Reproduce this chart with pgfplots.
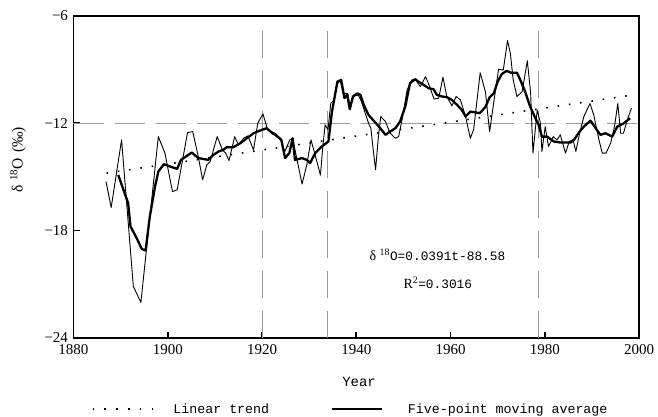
\documentclass[border=0pt]{standalone}
\usepackage{fontspec}
\setmainfont{Liberation Serif}
\newfontfamily\mono{Liberation Mono}
\usepackage{pgfplots}
\pgfplotsset{compat=1.18}
\begin{document}
\begin{tikzpicture}
\useasboundingbox (-73.5pt,-79pt) rectangle (584.5pt,338pt);
\begin{axis}[
  at={(0pt,0pt)}, anchor=south west,
  scale only axis, width=565.5pt, height=322.2pt,
  xmin=1880, xmax=2000, ymin=-24, ymax=-6,
  axis line style={line width=1.6pt},
  xtick={1880,1900,1920,1940,1960,1980,2000},
  xticklabels={1880,1900,1920,1940,1960,1980,2000},
  ytick={-24,-18,-12,-6},
  yticklabels={−24,−18,−12,−6},
  tick pos=left, tick align=inside,
  major tick length=6pt,
  every tick/.style={black, line width=1.6pt},
  ticklabel style={font=\fontsize{15}{18}\selectfont},
  yticklabel style={xshift=-2pt},
  xticklabel style={yshift=-3pt},
  xlabel={Year}, ylabel={δ\hspace{0.3em}\textsuperscript{18}O\hspace{0.35em}(‰)},
  xlabel style={font=\mono\fontsize{14}{16}\selectfont, at={(axis description cs:0.505,-0.137)}, anchor=center},
  ylabel style={font=\fontsize{15.5}{18}\selectfont, at={(axis description cs:-0.098,0.553)}, anchor=center},
  legend columns=2,
  legend style={draw=none, fill=none, at={(axis description cs:0.032,-0.2205)}, anchor=west,
    font=\mono\fontsize{13.3}{16}\selectfont, inner sep=0pt,
    /tikz/every even column/.append style={column sep=60pt}},
  clip=false,
]
% reference dashed lines
\addplot[forget plot, color=black!40, line width=0.9pt, dash pattern=on 30pt off 11pt] coordinates {(1880,-12) (1999.6,-12)};
\addplot[forget plot, color=black!40, line width=0.9pt, dash pattern=on 27pt off 13pt] coordinates {(1920,-24) (1920,-6.6)};
\addplot[forget plot, color=black!40, line width=0.9pt, dash pattern=on 27pt off 13pt] coordinates {(1933.9,-24) (1933.9,-6.6)};
\addplot[forget plot, color=black!40, line width=0.9pt, dash pattern=on 27pt off 13pt] coordinates {(1978.7,-24) (1978.7,-6.6)};
% annual series
\addplot[forget plot, black, line width=0.9pt, line join=round] coordinates {
(1886.9,-15.26) (1888.0,-16.71) (1890.2,-12.93) (1892.7,-21.12) (1894.3,-22.01)
(1898.0,-12.75) (1899.4,-13.67) (1901.0,-15.82) (1902.0,-15.72) (1904.2,-12.52)
(1905.3,-12.47) (1906.4,-13.77) (1907.4,-15.16) (1908.3,-14.33) (1909.0,-14.14)
(1910.5,-12.75) (1911.6,-13.49) (1912.3,-13.67) (1913.0,-14.09) (1914.2,-12.75)
(1915.0,-13.21) (1916.1,-12.84) (1917.0,-12.71) (1918.2,-13.49) (1919.1,-12.00)
(1920.2,-11.48) (1921.2,-12.37) (1922.8,-12.56) (1923.9,-12.84) (1924.8,-13.60)
(1925.9,-12.93) (1926.5,-12.84) (1927.4,-14.00) (1928.5,-15.40) (1929.5,-14.33)
(1930.4,-12.93) (1931.4,-13.90) (1932.4,-14.90) (1932.9,-13.30) (1933.4,-12.09)
(1934.0,-12.37) (1934.6,-10.88) (1935.3,-10.70) (1936.0,-9.80) (1936.6,-9.60)
(1937.2,-10.33) (1938.2,-10.33) (1938.7,-11.26) (1939.4,-10.51) (1940.4,-10.42)
(1941.1,-10.79) (1942.6,-12.00) (1943.1,-12.28) (1943.6,-13.49) (1944.1,-14.60)
(1944.7,-12.75) (1945.2,-11.63) (1946.2,-11.91) (1947.2,-12.56) (1948.3,-12.84) (1949.0,-12.75)
(1949.7,-11.82) (1950.8,-10.14) (1951.8,-9.58) (1952.5,-9.54) (1953.6,-9.96)
(1954.7,-9.40) (1955.5,-9.90) (1956.5,-10.65) (1957.5,-10.60) (1958.4,-9.43)
(1959.2,-10.50) (1960.3,-11.03) (1961.2,-10.51) (1962.1,-10.70) (1963.2,-11.63)
(1964.2,-12.84) (1964.9,-12.37) (1966.3,-9.18) (1967.4,-10.24) (1968.3,-12.47)
(1969.2,-10.79) (1970.2,-8.99) (1971.2,-9.03) (1972.1,-7.39) (1972.7,-8.09)
(1973.3,-9.58) (1974.1,-10.51) (1975.2,-10.24) (1976.3,-8.51) (1977.0,-10.30)
(1977.5,-13.67) (1978.4,-11.26) (1979.1,-12.00) (1979.4,-13.58) (1980.1,-12.19)
(1980.8,-13.30) (1981.8,-12.75) (1982.6,-12.93) (1983.3,-12.65) (1984.4,-13.67)
(1985.2,-13.02) (1986.0,-12.93) (1986.6,-13.58) (1987.4,-12.56) (1988.3,-11.63)
(1989.6,-10.90) (1990.4,-11.54) (1991.5,-12.93) (1992.2,-13.67) (1993.0,-13.67)
(1994.0,-13.10) (1994.8,-12.19) (1995.5,-10.90) (1996.1,-12.56) (1996.7,-12.56)
(1997.5,-11.82) (1998.4,-11.16)
};
% linear trend
\addplot[black, line width=1.6pt, dash pattern=on 1.6pt off 9.8pt,
  legend image code/.code={\draw[black, line width=1.6pt, dash pattern=on 1.6pt off 10.2pt] (0pt,0pt) -- (60pt,0pt); \path (78pt,0pt);}] coordinates {(1887,-14.79) (1998,-10.45)};
\addlegendentry{Linear trend}
% five-point moving average
\addplot[black, line width=2.3pt, line join=round,
  legend image code/.code={\draw[black, line width=1.2pt] (0pt,0pt) -- (50pt,0pt); \path (73pt,0pt);}] coordinates {
(1889.5,-14.89) (1891.6,-16.47) (1892.1,-17.77) (1893.4,-18.42) (1894.5,-19.03)
(1895.3,-19.11) (1896.2,-17.21) (1897.3,-15.54) (1898.0,-14.70) (1899.2,-14.29)
(1900.5,-14.42) (1902.0,-14.55) (1902.8,-14.05) (1905.1,-13.64) (1906.5,-13.95)
(1908.6,-14.05) (1909.7,-13.77) (1910.8,-13.58) (1911.8,-13.49) (1912.5,-13.34)
(1913.9,-13.34) (1915.4,-13.12) (1916.8,-12.84) (1918.2,-12.56) (1919.6,-12.41)
(1921.0,-12.28) (1922.2,-12.56) (1922.8,-12.65) (1924.1,-12.93) (1924.9,-13.95)
(1925.8,-13.67) (1926.5,-12.84) (1927.0,-14.05) (1928.5,-13.95) (1929.5,-14.05)
(1930.2,-14.23) (1931.3,-13.67) (1932.7,-13.30) (1934.1,-13.02) (1934.8,-11.44)
(1935.3,-10.70) (1936.0,-9.68) (1936.8,-9.58) (1937.5,-10.60) (1938.1,-10.40)
(1938.6,-11.20) (1939.3,-10.51) (1940.2,-10.33) (1940.9,-10.42) (1941.6,-10.98) (1942.6,-11.54)
(1944.0,-11.95) (1945.1,-12.28) (1946.2,-12.65) (1947.2,-12.47) (1948.3,-12.28)
(1949.3,-11.91) (1950.4,-11.07) (1951.4,-9.77) (1952.5,-9.54) (1953.2,-9.68)
(1954.3,-9.86) (1955.4,-10.05) (1956.4,-10.10) (1957.1,-10.42) (1958.2,-10.51)
(1959.3,-10.55) (1960.3,-10.70) (1961.4,-10.98) (1962.4,-11.26) (1963.2,-11.63)
(1964.2,-11.35) (1966.2,-11.44) (1967.4,-11.10) (1968.3,-10.55) (1969.2,-10.33)
(1970.0,-9.68) (1970.9,-9.25) (1971.9,-9.08) (1972.9,-9.18) (1974.1,-9.18)
(1974.8,-9.58) (1975.7,-10.14) (1976.9,-11.07) (1978.0,-11.72) (1978.7,-12.09)
(1979.4,-12.75) (1980.5,-12.75) (1981.9,-13.02) (1983.3,-13.08) (1985.5,-13.08)
(1986.2,-12.93) (1987.4,-12.47) (1988.3,-12.19) (1989.7,-11.86) (1990.8,-12.28)
(1991.8,-12.65) (1992.9,-12.56) (1994.3,-12.75) (1995.4,-12.19) (1996.8,-12.00)
(1998.1,-11.72)
};
\addlegendentry{Five-point moving average}
\node[anchor=west, inner sep=0pt, font=\fontsize{14}{16}\selectfont] at (axis cs:1942.8,-19.37) {δ \textsuperscript{18}{\mono\fontsize{12.8}{15}\selectfont O=0.0391t-88.58}};
\node[anchor=west, inner sep=0pt, font=\fontsize{14}{16}\selectfont] at (axis cs:1950.0,-20.93) {R\textsuperscript{2}{\mono\fontsize{12.8}{15}\selectfont =0.3016}};
\end{axis}
\end{tikzpicture}
\end{document}
